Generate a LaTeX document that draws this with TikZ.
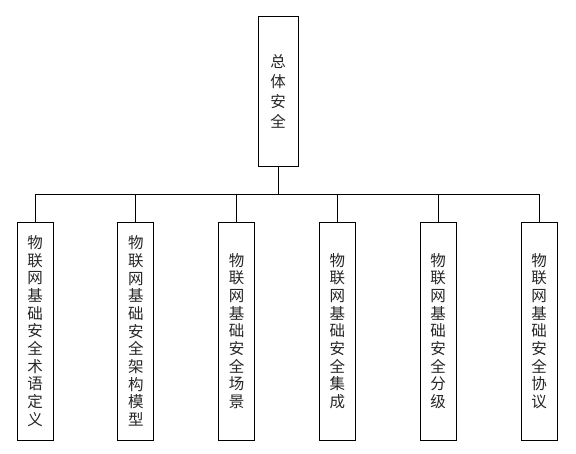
\documentclass[tikz,border=0pt]{standalone}
\usepackage{fontspec}
\newfontfamily\cjk{Noto Sans CJK SC}

\begin{document}
\begin{tikzpicture}[
    x=1pt, y=1pt,
    box/.style={rectangle, draw=black, line width=0.8pt, fill=white, inner sep=0pt, align=center, text=black!85},
    root/.style={box, minimum width=40pt, minimum height=150pt, font=\cjk\fontsize{15.5}{20}\selectfont},
    leaf/.style={box, minimum width=36pt, minimum height=218pt, font=\cjk\fontsize{15.5}{17.7}\selectfont},
    link/.style={draw=black, line width=0.8pt}
]
    \useasboundingbox (0,0) rectangle (576,454);

    % --- Top node ---
    \node[root] (R) at (278, 363) {总\\体\\安\\全};
    \coordinate (bus) at (0, 260);

    % --- Bottom row ---
    \foreach \i/\txt in {
        1/{物\\联\\网\\基\\础\\安\\全\\术\\语\\定\\义},
        2/{物\\联\\网\\基\\础\\安\\全\\架\\构\\模\\型},
        3/{物\\联\\网\\基\\础\\安\\全\\场\\景},
        4/{物\\联\\网\\基\\础\\安\\全\\集\\成},
        5/{物\\联\\网\\基\\础\\安\\全\\分\\级},
        6/{物\\联\\网\\基\\础\\安\\全\\协\\议}} {
        \node[leaf] (B\i) at (100.8*\i - 65.8, 123) {\txt};
    }

    % --- Connectors ---
    \foreach \i in {1,...,6} {
        \draw[link] (R.south) -- (R.south |- bus) -| (B\i.north);
    }
\end{tikzpicture}
\end{document}
